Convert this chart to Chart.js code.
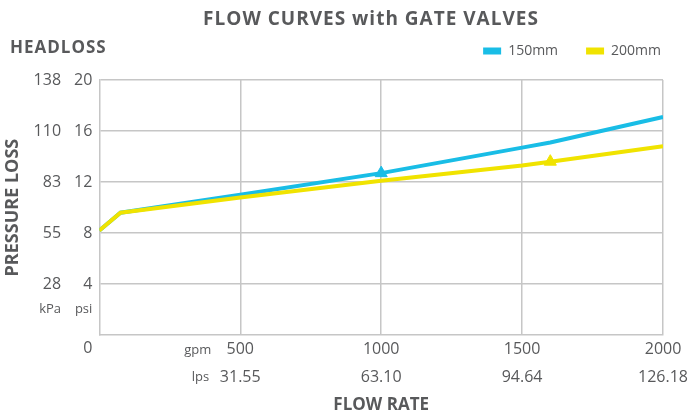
<!DOCTYPE html>
<html>
<head>
<meta charset="utf-8">
<script src="https://cdn.jsdelivr.net/npm/chart.js@4"></script>
<style>
  html, body { margin: 0; padding: 0; background: #fff; }
</style>
</head>
<body>
<canvas id="chart" width="689" height="415"></canvas>
<script>
// flow in gpm, pressure loss in psi
var flow = [0, 75, 500, 1000, 1500, 1600, 2000];
var loss150 = [8.2, 9.6, 11.0, 12.7, 14.7, 15.1, 17.1];
var loss200 = [8.2, 9.6, 10.8, 12.1, 13.3, 13.6, 14.8];
var mark150 = 1000; // triangle marker on each curve
var mark200 = 1600;

var psiTicks = [0, 2, 4, 8, 12, 16, 20];
var psiLabels = ['0', 'psi', '4', '8', '12', '16', '20'];
var kpaLabels = ['', 'kPa', '28', '55', '83', '110', '138'];
var gpmTicks = [0, 500, 1000, 1500, 2000];
var gpmLabels = ['', '500', '1000', '1500', '2000'];
var lpsLabels = ['', '31.55', '63.10', '94.64', '126.18'];

var textColor = '#58595b';
var gridColor = '#c6c6c6';
var cyan = '#19bde6';
var yellow = '#f0e300';

Chart.defaults.font.family = '"Open Sans", sans-serif';
Chart.defaults.color = textColor;

function points(ys) {
  return flow.map(function (x, i) { return {x: x, y: ys[i]}; });
}

// extra room under the legend
var legendGap = {
  id: 'legendGap',
  beforeLayout: function (chart) {
    var lg = chart.legend;
    if (!lg || lg._gap) return;
    var fit = lg.fit;
    lg.fit = function () { fit.call(this); this.height += 12; };
    lg._gap = true;
  }
};

// title, HEADLOSS and the gpm / lps unit labels
var extraText = {
  id: 'extraText',
  afterDraw: function (chart) {
    var ctx = chart.ctx, x = chart.scales.x;
    var px = x.getPixelForValue(gpmTicks[1]);
    ctx.save();
    ctx.fillStyle = textColor;
    ctx.textBaseline = 'middle';
    ctx.textAlign = 'center';
    ctx.letterSpacing = '1px';
    ctx.font = 'bold 19px "Open Sans"';
    ctx.fillText('FLOW CURVES with GATE VALVES', 371, 20);
    ctx.textAlign = 'left';
    ctx.font = 'bold 17px "Open Sans"';
    ctx.fillText('HEADLOSS', 10, 48);
    ctx.letterSpacing = '0px';
    ctx.textAlign = 'right';
    ctx.font = '13px "Open Sans"';
    ctx.fillText('gpm', px - 29, x.top + 15);
    ctx.fillText('lps', px - 31, x.top + 42);
    ctx.restore();
  }
};

var ctx = document.getElementById('chart').getContext('2d');
var myChart = new Chart(ctx, {
  type: 'line',
  data: {
    datasets: [{
      label: '150mm',
      data: points(loss150),
      borderColor: cyan,
      backgroundColor: cyan,
      order: 2,
      pointRadius: function (c) { return c.raw && c.raw.x === mark150 ? 7 : 0; },
    }, {
      label: '200mm',
      data: points(loss200),
      borderColor: yellow,
      backgroundColor: yellow,
      order: 1,
      pointRadius: function (c) { return c.raw && c.raw.x === mark200 ? 7 : 0; },
    }],
  },
  options: {
    responsive: false,
    animation: false,
    layout: { padding: { top: 16, left: 0, right: 0, bottom: 0 } },
    elements: {
      line: { borderWidth: 4, tension: 0, fill: false },
      point: { pointStyle: 'triangle', borderWidth: 1, hoverRadius: 0 },
    },
    plugins: {
      tooltip: { enabled: false },
      title: { display: false },
      legend: {
        position: 'top',
        align: 'end',
        labels: {
          boxWidth: 18,
          boxHeight: 7,
          padding: 28,
          color: textColor,
          font: { size: 14 },
          sort: function (a, b) { return a.datasetIndex - b.datasetIndex; },
          generateLabels: function (chart) {
            return Chart.defaults.plugins.legend.labels.generateLabels(chart).map(function (l) {
              l.lineWidth = 0;
              return l;
            });
          },
        },
      },
    },
    scales: {
      x: {
        type: 'linear',
        min: 0,
        max: 2000,
        afterBuildTicks: function (s) { s.ticks = gpmTicks.map(function (v) { return {value: v}; }); },
        ticks: {
          padding: 1,
          maxRotation: 0,
          autoSkip: false,
          font: { size: 16, lineHeight: 1.7 },
          callback: function (v, i) { return i === 0 ? '' : [gpmLabels[i], lpsLabels[i]]; },
        },
        grid: {
          drawTicks: false,
          lineWidth: 1.5,
          color: function (c) { return c.tick && c.tick.value > 0 ? gridColor : 'transparent'; },
        },
        border: { color: gridColor, width: 1.5 },
        title: {
          display: true,
          text: 'FLOW RATE',
          color: textColor,
          font: { size: 17, weight: 'bold' },
          padding: { top: 3, bottom: 0 },
        },
      },
      y: {   // psi
        position: 'left',
        weight: 0,
        min: 0,
        max: 20,
        afterBuildTicks: function (s) { s.ticks = psiTicks.map(function (v) { return {value: v}; }); },
        ticks: {
          padding: 7,
          autoSkip: false,
          callback: function (v) {
            var i = psiTicks.indexOf(v);
            return v === 0 ? ['', psiLabels[i]] : psiLabels[i];
          },
          font: function (c) {
            var v = c.tick ? c.tick.value : -1;
            if (v === 2) return { size: 13 };
            if (v === 0) return { size: 16, lineHeight: '26px' };
            return { size: 16 };
          },
        },
        grid: {
          drawTicks: false,
          lineWidth: 1.5,
          color: function (c) { return c.tick && c.tick.value > 0 && c.tick.value % 4 === 0 ? gridColor : 'transparent'; },
        },
        border: { color: gridColor, width: 1.5 },
      },
      y2: { // kPa
        position: 'left',
        weight: 1,
        min: 0,
        max: 20,
        afterBuildTicks: function (s) { s.ticks = psiTicks.map(function (v) { return {value: v}; }); },
        ticks: {
          padding: 6,
          autoSkip: false,
          callback: function (v) { return kpaLabels[psiTicks.indexOf(v)]; },
          font: function (c) { return { size: c.tick && c.tick.value === 2 ? 13 : 16 }; },
        },
        grid: { display: false, drawTicks: false },
        border: { display: false },
        title: {
          display: true,
          text: 'PRESSURE LOSS',
          color: textColor,
          font: { size: 18, weight: 'bold' },
          padding: { top: 2, bottom: 4 },
        },
      },
    },
  },
  plugins: [legendGap, extraText],
});
</script>
</body>
</html>
